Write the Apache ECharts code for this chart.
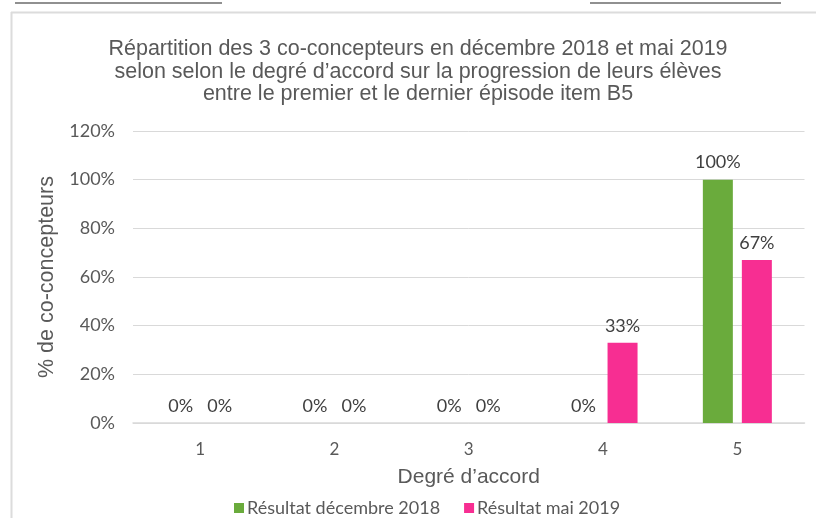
<!DOCTYPE html>
<html>
<head>
<meta charset="utf-8">
<script src="https://cdn.jsdelivr.net/npm/echarts@6/dist/echarts.min.js"></script>
<style>
  html, body { margin: 0; padding: 0; background: #ffffff; }
  #chart { width: 816px; height: 518px; }
</style>
</head>
<body>
<div id="chart"></div>
<script>
// Degré d'accord (échelle 1 à 5)
const categories = ['1', '2', '3', '4', '5'];
// Part des co-concepteurs (%) par degré d'accord
const decembre2018 = [0, 0, 0, 0, 100];
const mai2019 = [0, 0, 0, 33, 67];
const seriesNames = ['Résultat décembre 2018', 'Résultat mai 2019'];
const yTicks = { min: 0, max: 120, interval: 20 };

const titleText = [
  'Répartition des 3 co-concepteurs en décembre 2018 et mai 2019',
  'selon selon le degré d\u2019accord sur la progression de leurs élèves',
  'entre le premier et le dernier épisode item B5'
].join('\n');

const chart = echarts.init(document.getElementById('chart'), null, { renderer: 'canvas' });

const labelStyle = {
  show: true,
  position: 'top',
  distance: 8,
  formatter: '{c}%',
  color: '#404040',
  fontFamily: 'Lato',
  fontSize: 18
};

chart.setOption({
  animation: false,
  backgroundColor: '#ffffff',
  title: {
    text: titleText,
    left: 413,
    textAlign: 'center',
    top: 33,
    textStyle: {
      fontFamily: 'Liberation Sans',
      fontSize: 21.5,
      fontWeight: 'normal',
      color: '#595959',
      lineHeight: 22.5
    }
  },
  legend: {
    data: seriesNames,
    left: 229,
    top: 494,
    icon: 'rect',
    itemWidth: 10,
    itemHeight: 10,
    itemGap: 24,
    textStyle: { fontFamily: 'Lato', fontSize: 18, color: '#595959', padding: [0, 0, 0, -2] }
  },
  grid: { left: 133, right: 11.5, top: 131, bottom: 95, containLabel: false },
  xAxis: {
    type: 'category',
    data: categories,
    name: 'Degré d\u2019accord',
    nameLocation: 'middle',
    nameGap: 44,
    nameTextStyle: { fontFamily: 'Liberation Sans', fontSize: 21, color: '#595959' },
    axisLine: { lineStyle: { color: '#d9d9d9', width: 1.5 } },
    axisTick: { show: false },
    axisLabel: { margin: 18, fontFamily: 'Lato', fontSize: 17, color: '#595959' }
  },
  yAxis: {
    type: 'value',
    min: yTicks.min,
    max: yTicks.max,
    interval: yTicks.interval,
    name: '% de co-concepteurs',
    nameLocation: 'middle',
    nameRotate: 90,
    nameGap: 72,
    nameTextStyle: { fontFamily: 'Liberation Sans', fontSize: 21.5, color: '#595959' },
    axisLine: { show: false },
    axisTick: { show: false },
    axisLabel: { margin: 18, formatter: '{value}%', fontFamily: 'Lato', fontSize: 18, color: '#595959' },
    splitLine: { lineStyle: { color: '#d9d9d9', width: 1 } }
  },
  series: [
    {
      name: seriesNames[0],
      type: 'bar',
      data: decembre2018,
      barWidth: 30,
      barGap: '30%',
      itemStyle: { color: '#6aab3c' },
      label: labelStyle
    },
    {
      name: seriesNames[1],
      type: 'bar',
      data: mai2019,
      barWidth: 30,
      barGap: '30%',
      itemStyle: { color: '#f72e92' },
      label: labelStyle
    }
  ],
  graphic: [
    // cadre du graphique
    { type: 'line', shape: { x1: 11, y1: 12.5, x2: 816, y2: 12.5 }, style: { stroke: '#dcdcdc', lineWidth: 2 } },
    { type: 'line', shape: { x1: 11.5, y1: 12, x2: 11.5, y2: 518 }, style: { stroke: '#dcdcdc', lineWidth: 2 } },
    // traits du tableau au-dessus
    { type: 'line', shape: { x1: 15, y1: 3, x2: 222, y2: 3 }, style: { stroke: '#6b6b6b', lineWidth: 1.5 } },
    { type: 'line', shape: { x1: 590, y1: 3, x2: 781, y2: 3 }, style: { stroke: '#6b6b6b', lineWidth: 1.5 } }
  ]
});
</script>
</body>
</html>
